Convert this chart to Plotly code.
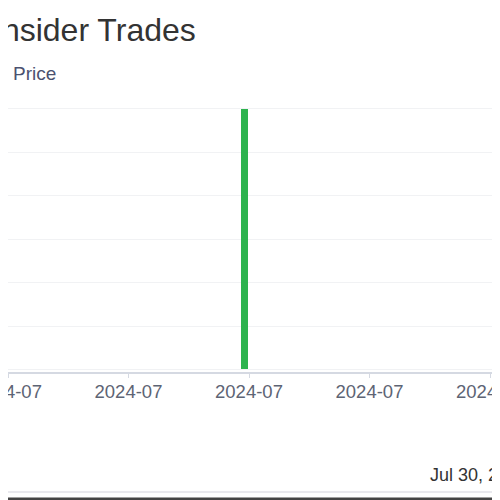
import plotly.graph_objects as go

# data
trade_dates = ["2024-07-27 23:06"]
trade_shares = [6000]
price_dates = [None]
price_values = [None]
x_range = ["2024-07-26 00:00:00", "2024-07-30 00:23:54"]
footer_date = "Jul 30, 2024"

# the page body adds an 8px margin, so the figure starts at (8, 8) in the window
OFF = 8
W, H = 500 - 2 * OFF, 500 - OFF
L, R, T, B = 0, 0, 96, 128
plot_w = W - L - R
plot_h = H - T - B


def wx(x):
    # window pixel -> paper x
    return (x - OFF - L) / plot_w


def wy(y):
    # window pixel -> paper y
    return (H - B - (y - OFF)) / plot_h


FONT = "Liberation Sans, Arial, sans-serif"

fig = go.Figure()

fig.add_trace(go.Bar(x=trade_dates, y=trade_shares, width=4.67e6,
                     marker=dict(color="#2db34e", line=dict(width=0)),
                     name="Buy", showlegend=False))

fig.add_trace(go.Scatter(x=price_dates, y=price_values, mode="markers",
                         marker=dict(color="#5b8def", size=16),
                         name="Price"))

fig.update_layout(
    width=W, height=H,
    margin=dict(l=L, r=R, t=T, b=B, autoexpand=False),
    paper_bgcolor="white",
    plot_bgcolor="white",
    font=dict(family=FONT),
    showlegend=True,
    legend=dict(orientation="h", x=wx(-27), y=wy(73),
                xanchor="left", yanchor="middle",
                font=dict(size=19, color="#4b5170"),
                bgcolor="rgba(0,0,0,0)"),
    xaxis=dict(
        type="date",
        range=x_range,
        tick0="2024-07-26",
        dtick=86400000,
        tickformat="%Y-%m",
        showgrid=False,
        zeroline=False,
        showline=True,
        linecolor="#d5d9e2",
        linewidth=2,
        ticks="outside",
        ticklen=4,
        tickcolor="#d5d9e2",
        ticklabelstandoff=-2,
        ticklabeloverflow="allow",
        tickfont=dict(size=18.5, color="#5d6474"),
        automargin=False,
    ),
    yaxis=dict(
        range=[-58, 6115],
        dtick=1000,
        showgrid=True,
        gridcolor="#f1f2f4",
        gridwidth=1,
        zeroline=False,
        showline=False,
        showticklabels=False,
        automargin=False,
    ),
    bargap=0,
)

fig.add_annotation(text="Insider Trades", xref="paper", yref="paper",
                   x=wx(-9), y=wy(30), xanchor="left", yanchor="middle",
                   showarrow=False, font=dict(size=32, color="#333333"))

fig.add_annotation(text=footer_date, xref="paper", yref="paper",
                   x=wx(428), y=wy(475), xanchor="left", yanchor="middle",
                   showarrow=False, font=dict(size=18, color="#333333"))

# frame of the screenshot
fig.add_shape(type="line", xref="paper", yref="paper",
              x0=wx(0), x1=wx(500), y0=wy(492), y1=wy(492),
              line=dict(color="#e9e9ee", width=2))
fig.add_shape(type="rect", xref="paper", yref="paper",
              x0=wx(-20), x1=wx(530), y0=wy(530), y1=wy(497.5),
              line=dict(width=0), fillcolor="#444444")

fig.write_html("out.html")
